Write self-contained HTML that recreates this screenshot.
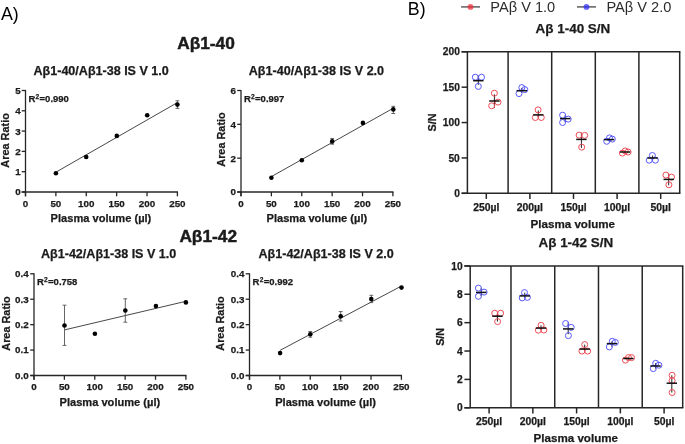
<!DOCTYPE html>
<html><head><meta charset="utf-8"><style>
html,body{margin:0;padding:0;background:#fff;}
body{width:685px;height:444px;overflow:hidden;}
svg{display:block;font-family:"Liberation Sans", sans-serif;will-change:transform;}
text[font-weight="bold"]{stroke:#1a1a1a;stroke-width:0.25px;paint-order:stroke;}
</style></head><body>
<svg width="685" height="444" viewBox="0 0 685 444">
<rect width="685" height="444" fill="#fff"/>
<text x="1.00" y="19.90" font-size="17.8" font-weight="normal" text-anchor="start" fill="#000" >A)</text>
<text x="407.80" y="14.70" font-size="17.8" font-weight="normal" text-anchor="start" fill="#000" >B)</text>
<line x1="461.10" y1="6.90" x2="480.00" y2="6.90" stroke="#5e5e5e" stroke-width="1.5" />
<circle cx="470.5" cy="6.9" r="2.9" fill="#ee2838" fill-opacity="0.72"/>
<text x="490.30" y="11.90" font-size="14.6" font-weight="normal" text-anchor="start" fill="#2c2c2c" >PAβ V 1.0</text>
<line x1="577.00" y1="6.90" x2="596.00" y2="6.90" stroke="#5e5e5e" stroke-width="1.5" />
<circle cx="586.5" cy="6.9" r="2.9" fill="#2a2aff" fill-opacity="0.72"/>
<text x="606.40" y="11.90" font-size="14.6" font-weight="normal" text-anchor="start" fill="#2c2c2c" >PAβ V 2.0</text>
<text x="206.00" y="49.30" font-size="17.3" font-weight="bold" text-anchor="middle" fill="#1a1a1a" style="stroke-width:0.45px">Aβ1-40</text>
<text x="208.20" y="241.60" font-size="17.3" font-weight="bold" text-anchor="middle" fill="#1a1a1a" style="stroke-width:0.45px">Aβ1-42</text>
<line x1="25.50" y1="89.90" x2="25.50" y2="196.30" stroke="#262626" stroke-width="1.3" />
<line x1="21.70" y1="192.00" x2="178.00" y2="192.00" stroke="#262626" stroke-width="1.3" />
<line x1="25.50" y1="192.00" x2="25.50" y2="196.30" stroke="#262626" stroke-width="1.3" />
<text x="25.50" y="206.60" font-size="9.8" font-weight="bold" text-anchor="middle" fill="#1a1a1a" >0</text>
<line x1="55.88" y1="192.00" x2="55.88" y2="196.30" stroke="#262626" stroke-width="1.3" />
<text x="55.88" y="206.60" font-size="9.8" font-weight="bold" text-anchor="middle" fill="#1a1a1a" >50</text>
<line x1="86.26" y1="192.00" x2="86.26" y2="196.30" stroke="#262626" stroke-width="1.3" />
<text x="86.26" y="206.60" font-size="9.8" font-weight="bold" text-anchor="middle" fill="#1a1a1a" >100</text>
<line x1="116.64" y1="192.00" x2="116.64" y2="196.30" stroke="#262626" stroke-width="1.3" />
<text x="116.64" y="206.60" font-size="9.8" font-weight="bold" text-anchor="middle" fill="#1a1a1a" >150</text>
<line x1="147.02" y1="192.00" x2="147.02" y2="196.30" stroke="#262626" stroke-width="1.3" />
<text x="147.02" y="206.60" font-size="9.8" font-weight="bold" text-anchor="middle" fill="#1a1a1a" >200</text>
<line x1="177.40" y1="192.00" x2="177.40" y2="196.30" stroke="#262626" stroke-width="1.3" />
<text x="177.40" y="206.60" font-size="9.8" font-weight="bold" text-anchor="middle" fill="#1a1a1a" >250</text>
<line x1="21.70" y1="192.00" x2="25.50" y2="192.00" stroke="#262626" stroke-width="1.3" />
<text x="20.60" y="195.40" font-size="9.8" font-weight="bold" text-anchor="end" fill="#1a1a1a" >0</text>
<line x1="21.70" y1="171.70" x2="25.50" y2="171.70" stroke="#262626" stroke-width="1.3" />
<text x="20.60" y="175.10" font-size="9.8" font-weight="bold" text-anchor="end" fill="#1a1a1a" >1</text>
<line x1="21.70" y1="151.40" x2="25.50" y2="151.40" stroke="#262626" stroke-width="1.3" />
<text x="20.60" y="154.80" font-size="9.8" font-weight="bold" text-anchor="end" fill="#1a1a1a" >2</text>
<line x1="21.70" y1="131.10" x2="25.50" y2="131.10" stroke="#262626" stroke-width="1.3" />
<text x="20.60" y="134.50" font-size="9.8" font-weight="bold" text-anchor="end" fill="#1a1a1a" >3</text>
<line x1="21.70" y1="110.80" x2="25.50" y2="110.80" stroke="#262626" stroke-width="1.3" />
<text x="20.60" y="114.20" font-size="9.8" font-weight="bold" text-anchor="end" fill="#1a1a1a" >4</text>
<line x1="21.70" y1="90.50" x2="25.50" y2="90.50" stroke="#262626" stroke-width="1.3" />
<text x="20.60" y="93.90" font-size="9.8" font-weight="bold" text-anchor="end" fill="#1a1a1a" >5</text>
<text x="33.50" y="74.50" font-size="12.55" font-weight="bold" text-anchor="start" fill="#1a1a1a" >Aβ1-40/Aβ1-38 IS V 1.0</text>
<text x="28.40" y="101.80" font-size="9.5" font-weight="bold" fill="#1a1a1a">R<tspan font-size="6.6" dx="0.3" dy="-3.3">2</tspan><tspan dx="0.3" dy="3.3">=0.990</tspan></text>
<text x="50.60" y="222.20" font-size="11.1" font-weight="bold" text-anchor="start" fill="#1a1a1a" >Plasma volume (µl)</text>
<text x="0" y="0" font-size="10.9" font-weight="bold" fill="#1a1a1a" text-anchor="middle" transform="translate(8.60,140.40) rotate(-90)">Area Ratio</text>
<line x1="55.90" y1="172.20" x2="177.40" y2="102.60" stroke="#333" stroke-width="0.9" />
<circle cx="55.90" cy="173.20" r="2.3" fill="#000" />
<circle cx="86.20" cy="157.00" r="2.3" fill="#000" />
<circle cx="116.80" cy="135.90" r="2.3" fill="#000" />
<circle cx="147.20" cy="115.20" r="2.3" fill="#000" />
<line x1="177.40" y1="100.80" x2="177.40" y2="108.40" stroke="#555" stroke-width="0.9" />
<line x1="175.50" y1="100.80" x2="179.30" y2="100.80" stroke="#555" stroke-width="0.9" />
<line x1="175.50" y1="108.40" x2="179.30" y2="108.40" stroke="#555" stroke-width="0.9" />
<circle cx="177.40" cy="104.60" r="2.3" fill="#000" />
<line x1="241.00" y1="89.90" x2="241.00" y2="196.30" stroke="#262626" stroke-width="1.3" />
<line x1="237.20" y1="192.00" x2="393.50" y2="192.00" stroke="#262626" stroke-width="1.3" />
<line x1="241.00" y1="192.00" x2="241.00" y2="196.30" stroke="#262626" stroke-width="1.3" />
<text x="241.00" y="206.60" font-size="9.8" font-weight="bold" text-anchor="middle" fill="#1a1a1a" >0</text>
<line x1="271.38" y1="192.00" x2="271.38" y2="196.30" stroke="#262626" stroke-width="1.3" />
<text x="271.38" y="206.60" font-size="9.8" font-weight="bold" text-anchor="middle" fill="#1a1a1a" >50</text>
<line x1="301.76" y1="192.00" x2="301.76" y2="196.30" stroke="#262626" stroke-width="1.3" />
<text x="301.76" y="206.60" font-size="9.8" font-weight="bold" text-anchor="middle" fill="#1a1a1a" >100</text>
<line x1="332.14" y1="192.00" x2="332.14" y2="196.30" stroke="#262626" stroke-width="1.3" />
<text x="332.14" y="206.60" font-size="9.8" font-weight="bold" text-anchor="middle" fill="#1a1a1a" >150</text>
<line x1="362.52" y1="192.00" x2="362.52" y2="196.30" stroke="#262626" stroke-width="1.3" />
<text x="362.52" y="206.60" font-size="9.8" font-weight="bold" text-anchor="middle" fill="#1a1a1a" >200</text>
<line x1="392.90" y1="192.00" x2="392.90" y2="196.30" stroke="#262626" stroke-width="1.3" />
<text x="392.90" y="206.60" font-size="9.8" font-weight="bold" text-anchor="middle" fill="#1a1a1a" >250</text>
<line x1="237.20" y1="192.00" x2="241.00" y2="192.00" stroke="#262626" stroke-width="1.3" />
<text x="236.00" y="195.40" font-size="9.8" font-weight="bold" text-anchor="end" fill="#1a1a1a" >0</text>
<line x1="237.20" y1="158.17" x2="241.00" y2="158.17" stroke="#262626" stroke-width="1.3" />
<text x="236.00" y="161.57" font-size="9.8" font-weight="bold" text-anchor="end" fill="#1a1a1a" >2</text>
<line x1="237.20" y1="124.33" x2="241.00" y2="124.33" stroke="#262626" stroke-width="1.3" />
<text x="236.00" y="127.73" font-size="9.8" font-weight="bold" text-anchor="end" fill="#1a1a1a" >4</text>
<line x1="237.20" y1="90.50" x2="241.00" y2="90.50" stroke="#262626" stroke-width="1.3" />
<text x="236.00" y="93.90" font-size="9.8" font-weight="bold" text-anchor="end" fill="#1a1a1a" >6</text>
<text x="248.80" y="74.50" font-size="12.55" font-weight="bold" text-anchor="start" fill="#1a1a1a" >Aβ1-40/Aβ1-38 IS V 2.0</text>
<text x="243.90" y="101.90" font-size="9.5" font-weight="bold" fill="#1a1a1a">R<tspan font-size="6.6" dx="0.3" dy="-3.3">2</tspan><tspan dx="0.3" dy="3.3">=0.997</tspan></text>
<text x="266.50" y="222.40" font-size="11.1" font-weight="bold" text-anchor="start" fill="#1a1a1a" >Plasma volume (µl)</text>
<text x="0" y="0" font-size="10.9" font-weight="bold" fill="#1a1a1a" text-anchor="middle" transform="translate(224.60,139.50) rotate(-90)">Area Ratio</text>
<line x1="271.40" y1="176.60" x2="393.30" y2="108.20" stroke="#333" stroke-width="0.9" />
<circle cx="271.40" cy="177.70" r="2.3" fill="#000" />
<circle cx="301.80" cy="160.20" r="2.3" fill="#000" />
<line x1="332.20" y1="138.50" x2="332.20" y2="144.20" stroke="#555" stroke-width="0.9" />
<line x1="330.30" y1="138.50" x2="334.10" y2="138.50" stroke="#555" stroke-width="0.9" />
<line x1="330.30" y1="144.20" x2="334.10" y2="144.20" stroke="#555" stroke-width="0.9" />
<circle cx="332.20" cy="141.40" r="2.3" fill="#000" />
<circle cx="362.90" cy="122.90" r="2.3" fill="#000" />
<line x1="393.30" y1="106.30" x2="393.30" y2="113.50" stroke="#555" stroke-width="0.9" />
<line x1="391.40" y1="106.30" x2="395.20" y2="106.30" stroke="#555" stroke-width="0.9" />
<line x1="391.40" y1="113.50" x2="395.20" y2="113.50" stroke="#555" stroke-width="0.9" />
<circle cx="393.30" cy="109.40" r="2.3" fill="#000" />
<line x1="34.00" y1="273.20" x2="34.00" y2="379.80" stroke="#262626" stroke-width="1.3" />
<line x1="30.20" y1="375.50" x2="186.50" y2="375.50" stroke="#262626" stroke-width="1.3" />
<line x1="34.00" y1="375.50" x2="34.00" y2="379.80" stroke="#262626" stroke-width="1.3" />
<text x="34.00" y="390.10" font-size="9.8" font-weight="bold" text-anchor="middle" fill="#1a1a1a" >0</text>
<line x1="64.38" y1="375.50" x2="64.38" y2="379.80" stroke="#262626" stroke-width="1.3" />
<text x="64.38" y="390.10" font-size="9.8" font-weight="bold" text-anchor="middle" fill="#1a1a1a" >50</text>
<line x1="94.76" y1="375.50" x2="94.76" y2="379.80" stroke="#262626" stroke-width="1.3" />
<text x="94.76" y="390.10" font-size="9.8" font-weight="bold" text-anchor="middle" fill="#1a1a1a" >100</text>
<line x1="125.14" y1="375.50" x2="125.14" y2="379.80" stroke="#262626" stroke-width="1.3" />
<text x="125.14" y="390.10" font-size="9.8" font-weight="bold" text-anchor="middle" fill="#1a1a1a" >150</text>
<line x1="155.52" y1="375.50" x2="155.52" y2="379.80" stroke="#262626" stroke-width="1.3" />
<text x="155.52" y="390.10" font-size="9.8" font-weight="bold" text-anchor="middle" fill="#1a1a1a" >200</text>
<line x1="185.90" y1="375.50" x2="185.90" y2="379.80" stroke="#262626" stroke-width="1.3" />
<text x="185.90" y="390.10" font-size="9.8" font-weight="bold" text-anchor="middle" fill="#1a1a1a" >250</text>
<line x1="30.20" y1="375.50" x2="34.00" y2="375.50" stroke="#262626" stroke-width="1.3" />
<text x="28.60" y="378.90" font-size="9.8" font-weight="bold" text-anchor="end" fill="#1a1a1a" >0.0</text>
<line x1="30.20" y1="350.07" x2="34.00" y2="350.07" stroke="#262626" stroke-width="1.3" />
<text x="28.60" y="353.47" font-size="9.8" font-weight="bold" text-anchor="end" fill="#1a1a1a" >0.1</text>
<line x1="30.20" y1="324.65" x2="34.00" y2="324.65" stroke="#262626" stroke-width="1.3" />
<text x="28.60" y="328.05" font-size="9.8" font-weight="bold" text-anchor="end" fill="#1a1a1a" >0.2</text>
<line x1="30.20" y1="299.23" x2="34.00" y2="299.23" stroke="#262626" stroke-width="1.3" />
<text x="28.60" y="302.62" font-size="9.8" font-weight="bold" text-anchor="end" fill="#1a1a1a" >0.3</text>
<line x1="30.20" y1="273.80" x2="34.00" y2="273.80" stroke="#262626" stroke-width="1.3" />
<text x="28.60" y="277.20" font-size="9.8" font-weight="bold" text-anchor="end" fill="#1a1a1a" >0.4</text>
<text x="41.00" y="257.60" font-size="12.55" font-weight="bold" text-anchor="start" fill="#1a1a1a" >Aβ1-42/Aβ1-38 IS V 1.0</text>
<text x="36.90" y="285.40" font-size="9.5" font-weight="bold" fill="#1a1a1a">R<tspan font-size="6.6" dx="0.3" dy="-3.3">2</tspan><tspan dx="0.3" dy="3.3">=0.758</tspan></text>
<text x="59.50" y="405.80" font-size="11.1" font-weight="bold" text-anchor="start" fill="#1a1a1a" >Plasma volume (µl)</text>
<text x="0" y="0" font-size="10.9" font-weight="bold" fill="#1a1a1a" text-anchor="middle" transform="translate(10.40,323.50) rotate(-90)">Area Ratio</text>
<line x1="64.50" y1="329.90" x2="185.90" y2="301.30" stroke="#333" stroke-width="0.9" />
<line x1="64.50" y1="305.20" x2="64.50" y2="345.40" stroke="#555" stroke-width="0.9" />
<line x1="62.60" y1="305.20" x2="66.40" y2="305.20" stroke="#555" stroke-width="0.9" />
<line x1="62.60" y1="345.40" x2="66.40" y2="345.40" stroke="#555" stroke-width="0.9" />
<circle cx="64.50" cy="325.50" r="2.3" fill="#000" />
<circle cx="94.90" cy="333.70" r="2.3" fill="#000" />
<line x1="125.30" y1="298.80" x2="125.30" y2="322.20" stroke="#555" stroke-width="0.9" />
<line x1="123.40" y1="298.80" x2="127.20" y2="298.80" stroke="#555" stroke-width="0.9" />
<line x1="123.40" y1="322.20" x2="127.20" y2="322.20" stroke="#555" stroke-width="0.9" />
<circle cx="125.30" cy="310.50" r="2.3" fill="#000" />
<circle cx="155.90" cy="306.10" r="2.3" fill="#000" />
<circle cx="185.90" cy="302.40" r="2.3" fill="#000" />
<line x1="249.50" y1="273.20" x2="249.50" y2="379.80" stroke="#262626" stroke-width="1.3" />
<line x1="245.70" y1="375.50" x2="402.00" y2="375.50" stroke="#262626" stroke-width="1.3" />
<line x1="249.50" y1="375.50" x2="249.50" y2="379.80" stroke="#262626" stroke-width="1.3" />
<text x="249.50" y="390.10" font-size="9.8" font-weight="bold" text-anchor="middle" fill="#1a1a1a" >0</text>
<line x1="279.88" y1="375.50" x2="279.88" y2="379.80" stroke="#262626" stroke-width="1.3" />
<text x="279.88" y="390.10" font-size="9.8" font-weight="bold" text-anchor="middle" fill="#1a1a1a" >50</text>
<line x1="310.26" y1="375.50" x2="310.26" y2="379.80" stroke="#262626" stroke-width="1.3" />
<text x="310.26" y="390.10" font-size="9.8" font-weight="bold" text-anchor="middle" fill="#1a1a1a" >100</text>
<line x1="340.64" y1="375.50" x2="340.64" y2="379.80" stroke="#262626" stroke-width="1.3" />
<text x="340.64" y="390.10" font-size="9.8" font-weight="bold" text-anchor="middle" fill="#1a1a1a" >150</text>
<line x1="371.02" y1="375.50" x2="371.02" y2="379.80" stroke="#262626" stroke-width="1.3" />
<text x="371.02" y="390.10" font-size="9.8" font-weight="bold" text-anchor="middle" fill="#1a1a1a" >200</text>
<line x1="401.40" y1="375.50" x2="401.40" y2="379.80" stroke="#262626" stroke-width="1.3" />
<text x="401.40" y="390.10" font-size="9.8" font-weight="bold" text-anchor="middle" fill="#1a1a1a" >250</text>
<line x1="245.70" y1="375.50" x2="249.50" y2="375.50" stroke="#262626" stroke-width="1.3" />
<text x="244.40" y="378.90" font-size="9.8" font-weight="bold" text-anchor="end" fill="#1a1a1a" >0.0</text>
<line x1="245.70" y1="350.07" x2="249.50" y2="350.07" stroke="#262626" stroke-width="1.3" />
<text x="244.40" y="353.47" font-size="9.8" font-weight="bold" text-anchor="end" fill="#1a1a1a" >0.1</text>
<line x1="245.70" y1="324.65" x2="249.50" y2="324.65" stroke="#262626" stroke-width="1.3" />
<text x="244.40" y="328.05" font-size="9.8" font-weight="bold" text-anchor="end" fill="#1a1a1a" >0.2</text>
<line x1="245.70" y1="299.23" x2="249.50" y2="299.23" stroke="#262626" stroke-width="1.3" />
<text x="244.40" y="302.62" font-size="9.8" font-weight="bold" text-anchor="end" fill="#1a1a1a" >0.3</text>
<line x1="245.70" y1="273.80" x2="249.50" y2="273.80" stroke="#262626" stroke-width="1.3" />
<text x="244.40" y="277.20" font-size="9.8" font-weight="bold" text-anchor="end" fill="#1a1a1a" >0.4</text>
<text x="258.50" y="257.60" font-size="12.55" font-weight="bold" text-anchor="start" fill="#1a1a1a" >Aβ1-42/Aβ1-38 IS V 2.0</text>
<text x="252.60" y="285.30" font-size="9.5" font-weight="bold" fill="#1a1a1a">R<tspan font-size="6.6" dx="0.3" dy="-3.3">2</tspan><tspan dx="0.3" dy="3.3">=0.992</tspan></text>
<text x="275.20" y="405.80" font-size="11.1" font-weight="bold" text-anchor="start" fill="#1a1a1a" >Plasma volume (µl)</text>
<text x="0" y="0" font-size="10.9" font-weight="bold" fill="#1a1a1a" text-anchor="middle" transform="translate(224.20,323.50) rotate(-90)">Area Ratio</text>
<line x1="280.10" y1="350.30" x2="401.50" y2="286.00" stroke="#333" stroke-width="0.9" />
<circle cx="280.10" cy="353.10" r="2.3" fill="#000" />
<line x1="310.30" y1="331.50" x2="310.30" y2="337.20" stroke="#555" stroke-width="0.9" />
<line x1="308.40" y1="331.50" x2="312.20" y2="331.50" stroke="#555" stroke-width="0.9" />
<line x1="308.40" y1="337.20" x2="312.20" y2="337.20" stroke="#555" stroke-width="0.9" />
<circle cx="310.30" cy="334.30" r="2.3" fill="#000" />
<line x1="340.70" y1="311.60" x2="340.70" y2="321.00" stroke="#555" stroke-width="0.9" />
<line x1="338.80" y1="311.60" x2="342.60" y2="311.60" stroke="#555" stroke-width="0.9" />
<line x1="338.80" y1="321.00" x2="342.60" y2="321.00" stroke="#555" stroke-width="0.9" />
<circle cx="340.70" cy="316.30" r="2.3" fill="#000" />
<line x1="371.30" y1="295.30" x2="371.30" y2="302.60" stroke="#555" stroke-width="0.9" />
<line x1="369.40" y1="295.30" x2="373.20" y2="295.30" stroke="#555" stroke-width="0.9" />
<line x1="369.40" y1="302.60" x2="373.20" y2="302.60" stroke="#555" stroke-width="0.9" />
<circle cx="371.30" cy="299.10" r="2.3" fill="#000" />
<circle cx="401.50" cy="287.60" r="2.3" fill="#000" />
<line x1="508.10" y1="51.80" x2="508.10" y2="193.30" stroke="#262626" stroke-width="1.5" />
<line x1="551.70" y1="51.80" x2="551.70" y2="193.30" stroke="#262626" stroke-width="1.5" />
<line x1="595.30" y1="51.80" x2="595.30" y2="193.30" stroke="#262626" stroke-width="1.5" />
<line x1="638.90" y1="51.80" x2="638.90" y2="193.30" stroke="#262626" stroke-width="1.5" />
<line x1="467.40" y1="51.80" x2="467.40" y2="193.30" stroke="#262626" stroke-width="1.5" />
<line x1="679.70" y1="51.80" x2="679.70" y2="193.30" stroke="#262626" stroke-width="1.5" />
<line x1="461.60" y1="51.80" x2="680.40" y2="51.80" stroke="#262626" stroke-width="1.5" />
<line x1="461.60" y1="193.30" x2="680.40" y2="193.30" stroke="#262626" stroke-width="1.5" />
<line x1="461.60" y1="193.30" x2="467.40" y2="193.30" stroke="#262626" stroke-width="1.5" />
<text x="459.80" y="196.90" font-size="10.2" font-weight="bold" text-anchor="end" fill="#1a1a1a" >0</text>
<line x1="461.60" y1="157.93" x2="467.40" y2="157.93" stroke="#262626" stroke-width="1.5" />
<text x="459.80" y="161.53" font-size="10.2" font-weight="bold" text-anchor="end" fill="#1a1a1a" >50</text>
<line x1="461.60" y1="122.55" x2="467.40" y2="122.55" stroke="#262626" stroke-width="1.5" />
<text x="459.80" y="126.15" font-size="10.2" font-weight="bold" text-anchor="end" fill="#1a1a1a" >100</text>
<line x1="461.60" y1="87.18" x2="467.40" y2="87.18" stroke="#262626" stroke-width="1.5" />
<text x="459.80" y="90.78" font-size="10.2" font-weight="bold" text-anchor="end" fill="#1a1a1a" >150</text>
<line x1="461.60" y1="51.80" x2="467.40" y2="51.80" stroke="#262626" stroke-width="1.5" />
<text x="459.80" y="55.40" font-size="10.2" font-weight="bold" text-anchor="end" fill="#1a1a1a" >200</text>
<line x1="486.30" y1="193.30" x2="486.30" y2="198.90" stroke="#262626" stroke-width="1.5" />
<text x="486.30" y="210.50" font-size="10.4" font-weight="bold" text-anchor="middle" fill="#1a1a1a" >250µl</text>
<line x1="529.90" y1="193.30" x2="529.90" y2="198.90" stroke="#262626" stroke-width="1.5" />
<text x="529.90" y="210.50" font-size="10.4" font-weight="bold" text-anchor="middle" fill="#1a1a1a" >200µl</text>
<line x1="573.50" y1="193.30" x2="573.50" y2="198.90" stroke="#262626" stroke-width="1.5" />
<text x="573.50" y="210.50" font-size="10.4" font-weight="bold" text-anchor="middle" fill="#1a1a1a" >150µl</text>
<line x1="617.10" y1="193.30" x2="617.10" y2="198.90" stroke="#262626" stroke-width="1.5" />
<text x="617.10" y="210.50" font-size="10.4" font-weight="bold" text-anchor="middle" fill="#1a1a1a" >100µl</text>
<line x1="660.70" y1="193.30" x2="660.70" y2="198.90" stroke="#262626" stroke-width="1.5" />
<text x="660.70" y="210.50" font-size="10.4" font-weight="bold" text-anchor="middle" fill="#1a1a1a" >50µl</text>
<text x="535.60" y="32.70" font-size="13.45" font-weight="bold" text-anchor="start" fill="#1a1a1a" >Aβ 1-40 S/N</text>
<text x="0" y="0" font-size="10.8" font-weight="bold" fill="#1a1a1a" text-anchor="middle" transform="translate(436.00,122.55) rotate(-90)">S/N</text>
<text x="530.60" y="228.20" font-size="11.6" font-weight="bold" text-anchor="start" fill="#1a1a1a" >Plasma volume</text>
<line x1="478.30" y1="75.70" x2="478.30" y2="84.70" stroke="#222" stroke-width="1.0" />
<circle cx="475.30" cy="77.20" r="3.0" fill="none" stroke="#5858ff" stroke-width="1.0"/>
<circle cx="481.50" cy="77.20" r="3.0" fill="none" stroke="#5858ff" stroke-width="1.0"/>
<circle cx="478.30" cy="86.40" r="3.0" fill="none" stroke="#5858ff" stroke-width="1.0"/>
<line x1="473.10" y1="80.70" x2="483.50" y2="80.70" stroke="#111" stroke-width="1.5" />
<line x1="494.40" y1="94.40" x2="494.40" y2="107.80" stroke="#222" stroke-width="1.0" />
<circle cx="494.40" cy="93.20" r="3.0" fill="none" stroke="#ee4c56" stroke-width="1.0"/>
<circle cx="498.00" cy="102.10" r="3.0" fill="none" stroke="#ee4c56" stroke-width="1.0"/>
<circle cx="491.70" cy="105.80" r="3.0" fill="none" stroke="#ee4c56" stroke-width="1.0"/>
<line x1="489.20" y1="101.00" x2="499.60" y2="101.00" stroke="#111" stroke-width="1.5" />
<line x1="521.80" y1="88.00" x2="521.80" y2="93.00" stroke="#222" stroke-width="1.0" />
<circle cx="519.00" cy="93.60" r="3.0" fill="none" stroke="#5858ff" stroke-width="1.0"/>
<circle cx="521.80" cy="87.60" r="3.0" fill="none" stroke="#5858ff" stroke-width="1.0"/>
<circle cx="524.80" cy="89.60" r="3.0" fill="none" stroke="#5858ff" stroke-width="1.0"/>
<line x1="516.60" y1="90.70" x2="527.00" y2="90.70" stroke="#111" stroke-width="1.5" />
<line x1="538.30" y1="110.50" x2="538.30" y2="117.50" stroke="#222" stroke-width="1.0" />
<circle cx="538.10" cy="109.90" r="3.0" fill="none" stroke="#ee4c56" stroke-width="1.0"/>
<circle cx="535.30" cy="117.50" r="3.0" fill="none" stroke="#ee4c56" stroke-width="1.0"/>
<circle cx="541.30" cy="117.50" r="3.0" fill="none" stroke="#ee4c56" stroke-width="1.0"/>
<line x1="533.10" y1="114.90" x2="543.50" y2="114.90" stroke="#111" stroke-width="1.5" />
<line x1="565.20" y1="115.20" x2="565.20" y2="122.50" stroke="#222" stroke-width="1.0" />
<circle cx="562.60" cy="115.20" r="3.0" fill="none" stroke="#5858ff" stroke-width="1.0"/>
<circle cx="562.60" cy="122.50" r="3.0" fill="none" stroke="#5858ff" stroke-width="1.0"/>
<circle cx="568.20" cy="119.10" r="3.0" fill="none" stroke="#5858ff" stroke-width="1.0"/>
<line x1="560.00" y1="118.60" x2="570.40" y2="118.60" stroke="#111" stroke-width="1.5" />
<line x1="581.40" y1="132.60" x2="581.40" y2="148.00" stroke="#222" stroke-width="1.0" />
<circle cx="579.10" cy="135.10" r="3.0" fill="none" stroke="#ee4c56" stroke-width="1.0"/>
<circle cx="584.70" cy="135.40" r="3.0" fill="none" stroke="#ee4c56" stroke-width="1.0"/>
<circle cx="581.70" cy="147.20" r="3.0" fill="none" stroke="#ee4c56" stroke-width="1.0"/>
<line x1="576.20" y1="139.40" x2="586.60" y2="139.40" stroke="#111" stroke-width="1.5" />
<line x1="609.00" y1="138.00" x2="609.00" y2="141.30" stroke="#222" stroke-width="1.0" />
<circle cx="606.70" cy="141.30" r="3.0" fill="none" stroke="#5858ff" stroke-width="1.0"/>
<circle cx="609.50" cy="137.90" r="3.0" fill="none" stroke="#5858ff" stroke-width="1.0"/>
<circle cx="612.30" cy="139.10" r="3.0" fill="none" stroke="#5858ff" stroke-width="1.0"/>
<line x1="603.80" y1="139.60" x2="614.20" y2="139.60" stroke="#111" stroke-width="1.5" />
<line x1="625.10" y1="150.90" x2="625.10" y2="153.10" stroke="#222" stroke-width="1.0" />
<circle cx="622.40" cy="153.10" r="3.0" fill="none" stroke="#ee4c56" stroke-width="1.0"/>
<circle cx="625.20" cy="150.90" r="3.0" fill="none" stroke="#ee4c56" stroke-width="1.0"/>
<circle cx="628.10" cy="152.00" r="3.0" fill="none" stroke="#ee4c56" stroke-width="1.0"/>
<line x1="619.90" y1="152.00" x2="630.30" y2="152.00" stroke="#111" stroke-width="1.5" />
<line x1="652.60" y1="155.50" x2="652.60" y2="160.20" stroke="#222" stroke-width="1.0" />
<circle cx="652.40" cy="155.50" r="3.0" fill="none" stroke="#5858ff" stroke-width="1.0"/>
<circle cx="649.20" cy="160.20" r="3.0" fill="none" stroke="#5858ff" stroke-width="1.0"/>
<circle cx="655.40" cy="160.20" r="3.0" fill="none" stroke="#5858ff" stroke-width="1.0"/>
<line x1="647.40" y1="158.00" x2="657.80" y2="158.00" stroke="#111" stroke-width="1.5" />
<line x1="668.70" y1="173.50" x2="668.70" y2="185.30" stroke="#222" stroke-width="1.0" />
<circle cx="665.90" cy="175.10" r="3.0" fill="none" stroke="#ee4c56" stroke-width="1.0"/>
<circle cx="671.50" cy="177.10" r="3.0" fill="none" stroke="#ee4c56" stroke-width="1.0"/>
<circle cx="668.90" cy="184.80" r="3.0" fill="none" stroke="#ee4c56" stroke-width="1.0"/>
<line x1="663.50" y1="179.40" x2="673.90" y2="179.40" stroke="#111" stroke-width="1.5" />
<line x1="510.98" y1="265.90" x2="510.98" y2="407.80" stroke="#262626" stroke-width="1.5" />
<line x1="554.73" y1="265.90" x2="554.73" y2="407.80" stroke="#262626" stroke-width="1.5" />
<line x1="598.48" y1="265.90" x2="598.48" y2="407.80" stroke="#262626" stroke-width="1.5" />
<line x1="642.23" y1="265.90" x2="642.23" y2="407.80" stroke="#262626" stroke-width="1.5" />
<line x1="470.20" y1="265.90" x2="470.20" y2="407.80" stroke="#262626" stroke-width="1.5" />
<line x1="682.70" y1="265.90" x2="682.70" y2="407.80" stroke="#262626" stroke-width="1.5" />
<line x1="464.40" y1="265.90" x2="683.40" y2="265.90" stroke="#262626" stroke-width="1.5" />
<line x1="464.40" y1="407.80" x2="683.40" y2="407.80" stroke="#262626" stroke-width="1.5" />
<line x1="464.40" y1="407.80" x2="470.20" y2="407.80" stroke="#262626" stroke-width="1.5" />
<text x="462.60" y="411.40" font-size="10.2" font-weight="bold" text-anchor="end" fill="#1a1a1a" >0</text>
<line x1="464.40" y1="379.42" x2="470.20" y2="379.42" stroke="#262626" stroke-width="1.5" />
<text x="462.60" y="383.02" font-size="10.2" font-weight="bold" text-anchor="end" fill="#1a1a1a" >2</text>
<line x1="464.40" y1="351.04" x2="470.20" y2="351.04" stroke="#262626" stroke-width="1.5" />
<text x="462.60" y="354.64" font-size="10.2" font-weight="bold" text-anchor="end" fill="#1a1a1a" >4</text>
<line x1="464.40" y1="322.66" x2="470.20" y2="322.66" stroke="#262626" stroke-width="1.5" />
<text x="462.60" y="326.26" font-size="10.2" font-weight="bold" text-anchor="end" fill="#1a1a1a" >6</text>
<line x1="464.40" y1="294.28" x2="470.20" y2="294.28" stroke="#262626" stroke-width="1.5" />
<text x="462.60" y="297.88" font-size="10.2" font-weight="bold" text-anchor="end" fill="#1a1a1a" >8</text>
<line x1="464.40" y1="265.90" x2="470.20" y2="265.90" stroke="#262626" stroke-width="1.5" />
<text x="462.60" y="269.50" font-size="10.2" font-weight="bold" text-anchor="end" fill="#1a1a1a" >10</text>
<line x1="489.10" y1="407.80" x2="489.10" y2="413.40" stroke="#262626" stroke-width="1.5" />
<text x="489.10" y="425.00" font-size="10.4" font-weight="bold" text-anchor="middle" fill="#1a1a1a" >250µl</text>
<line x1="532.85" y1="407.80" x2="532.85" y2="413.40" stroke="#262626" stroke-width="1.5" />
<text x="532.85" y="425.00" font-size="10.4" font-weight="bold" text-anchor="middle" fill="#1a1a1a" >200µl</text>
<line x1="576.60" y1="407.80" x2="576.60" y2="413.40" stroke="#262626" stroke-width="1.5" />
<text x="576.60" y="425.00" font-size="10.4" font-weight="bold" text-anchor="middle" fill="#1a1a1a" >150µl</text>
<line x1="620.35" y1="407.80" x2="620.35" y2="413.40" stroke="#262626" stroke-width="1.5" />
<text x="620.35" y="425.00" font-size="10.4" font-weight="bold" text-anchor="middle" fill="#1a1a1a" >100µl</text>
<line x1="664.10" y1="407.80" x2="664.10" y2="413.40" stroke="#262626" stroke-width="1.5" />
<text x="664.10" y="425.00" font-size="10.4" font-weight="bold" text-anchor="middle" fill="#1a1a1a" >50µl</text>
<text x="538.50" y="246.80" font-size="13.45" font-weight="bold" text-anchor="start" fill="#1a1a1a" >Aβ 1-42 S/N</text>
<text x="0" y="0" font-size="10.8" font-weight="bold" fill="#1a1a1a" text-anchor="middle" transform="translate(444.00,336.85) rotate(-90)">S/N</text>
<text x="533.60" y="442.20" font-size="11.6" font-weight="bold" text-anchor="start" fill="#1a1a1a" >Plasma volume</text>
<line x1="481.20" y1="288.10" x2="481.20" y2="296.30" stroke="#222" stroke-width="1.0" />
<circle cx="478.40" cy="288.10" r="3.0" fill="none" stroke="#5858ff" stroke-width="1.0"/>
<circle cx="484.10" cy="292.10" r="3.0" fill="none" stroke="#5858ff" stroke-width="1.0"/>
<circle cx="478.40" cy="296.30" r="3.0" fill="none" stroke="#5858ff" stroke-width="1.0"/>
<line x1="476.00" y1="292.40" x2="486.40" y2="292.40" stroke="#111" stroke-width="1.5" />
<line x1="497.40" y1="313.20" x2="497.40" y2="321.60" stroke="#222" stroke-width="1.0" />
<circle cx="494.70" cy="313.20" r="3.0" fill="none" stroke="#ee4c56" stroke-width="1.0"/>
<circle cx="500.60" cy="313.20" r="3.0" fill="none" stroke="#ee4c56" stroke-width="1.0"/>
<circle cx="497.60" cy="321.60" r="3.0" fill="none" stroke="#ee4c56" stroke-width="1.0"/>
<line x1="492.20" y1="316.20" x2="502.60" y2="316.20" stroke="#111" stroke-width="1.5" />
<line x1="524.80" y1="292.60" x2="524.80" y2="298.00" stroke="#222" stroke-width="1.0" />
<circle cx="524.50" cy="292.60" r="3.0" fill="none" stroke="#5858ff" stroke-width="1.0"/>
<circle cx="522.20" cy="297.90" r="3.0" fill="none" stroke="#5858ff" stroke-width="1.0"/>
<circle cx="527.40" cy="297.40" r="3.0" fill="none" stroke="#5858ff" stroke-width="1.0"/>
<line x1="519.60" y1="295.90" x2="530.00" y2="295.90" stroke="#111" stroke-width="1.5" />
<line x1="541.00" y1="325.30" x2="541.00" y2="330.20" stroke="#222" stroke-width="1.0" />
<circle cx="541.10" cy="325.30" r="3.0" fill="none" stroke="#ee4c56" stroke-width="1.0"/>
<circle cx="538.30" cy="330.20" r="3.0" fill="none" stroke="#ee4c56" stroke-width="1.0"/>
<circle cx="543.90" cy="330.00" r="3.0" fill="none" stroke="#ee4c56" stroke-width="1.0"/>
<line x1="535.80" y1="328.10" x2="546.20" y2="328.10" stroke="#111" stroke-width="1.5" />
<line x1="568.20" y1="322.40" x2="568.20" y2="334.20" stroke="#222" stroke-width="1.0" />
<circle cx="565.60" cy="323.50" r="3.0" fill="none" stroke="#5858ff" stroke-width="1.0"/>
<circle cx="571.20" cy="327.40" r="3.0" fill="none" stroke="#5858ff" stroke-width="1.0"/>
<circle cx="568.40" cy="335.60" r="3.0" fill="none" stroke="#5858ff" stroke-width="1.0"/>
<line x1="563.00" y1="328.90" x2="573.40" y2="328.90" stroke="#111" stroke-width="1.5" />
<line x1="584.70" y1="344.60" x2="584.70" y2="351.10" stroke="#222" stroke-width="1.0" />
<circle cx="584.70" cy="344.60" r="3.0" fill="none" stroke="#ee4c56" stroke-width="1.0"/>
<circle cx="581.90" cy="351.10" r="3.0" fill="none" stroke="#ee4c56" stroke-width="1.0"/>
<circle cx="587.70" cy="351.10" r="3.0" fill="none" stroke="#ee4c56" stroke-width="1.0"/>
<line x1="579.50" y1="349.10" x2="589.90" y2="349.10" stroke="#111" stroke-width="1.5" />
<line x1="612.00" y1="341.30" x2="612.00" y2="346.90" stroke="#222" stroke-width="1.0" />
<circle cx="609.30" cy="346.90" r="3.0" fill="none" stroke="#5858ff" stroke-width="1.0"/>
<circle cx="612.30" cy="341.30" r="3.0" fill="none" stroke="#5858ff" stroke-width="1.0"/>
<circle cx="615.30" cy="342.40" r="3.0" fill="none" stroke="#5858ff" stroke-width="1.0"/>
<line x1="606.80" y1="343.60" x2="617.20" y2="343.60" stroke="#111" stroke-width="1.5" />
<line x1="628.40" y1="357.60" x2="628.40" y2="360.10" stroke="#222" stroke-width="1.0" />
<circle cx="625.40" cy="360.10" r="3.0" fill="none" stroke="#ee4c56" stroke-width="1.0"/>
<circle cx="628.50" cy="357.60" r="3.0" fill="none" stroke="#ee4c56" stroke-width="1.0"/>
<circle cx="631.60" cy="357.60" r="3.0" fill="none" stroke="#ee4c56" stroke-width="1.0"/>
<line x1="623.20" y1="358.50" x2="633.60" y2="358.50" stroke="#111" stroke-width="1.5" />
<line x1="655.50" y1="363.30" x2="655.50" y2="368.60" stroke="#222" stroke-width="1.0" />
<circle cx="653.30" cy="368.60" r="3.0" fill="none" stroke="#5858ff" stroke-width="1.0"/>
<circle cx="655.70" cy="363.30" r="3.0" fill="none" stroke="#5858ff" stroke-width="1.0"/>
<circle cx="658.90" cy="365.20" r="3.0" fill="none" stroke="#5858ff" stroke-width="1.0"/>
<line x1="650.30" y1="366.00" x2="660.70" y2="366.00" stroke="#111" stroke-width="1.5" />
<line x1="671.80" y1="375.30" x2="671.80" y2="392.50" stroke="#222" stroke-width="1.0" />
<circle cx="672.10" cy="375.30" r="3.0" fill="none" stroke="#ee4c56" stroke-width="1.0"/>
<circle cx="672.10" cy="380.60" r="3.0" fill="none" stroke="#ee4c56" stroke-width="1.0"/>
<circle cx="672.10" cy="392.50" r="3.0" fill="none" stroke="#ee4c56" stroke-width="1.0"/>
<line x1="666.60" y1="383.20" x2="677.00" y2="383.20" stroke="#111" stroke-width="1.5" />
</svg>
</body></html>
